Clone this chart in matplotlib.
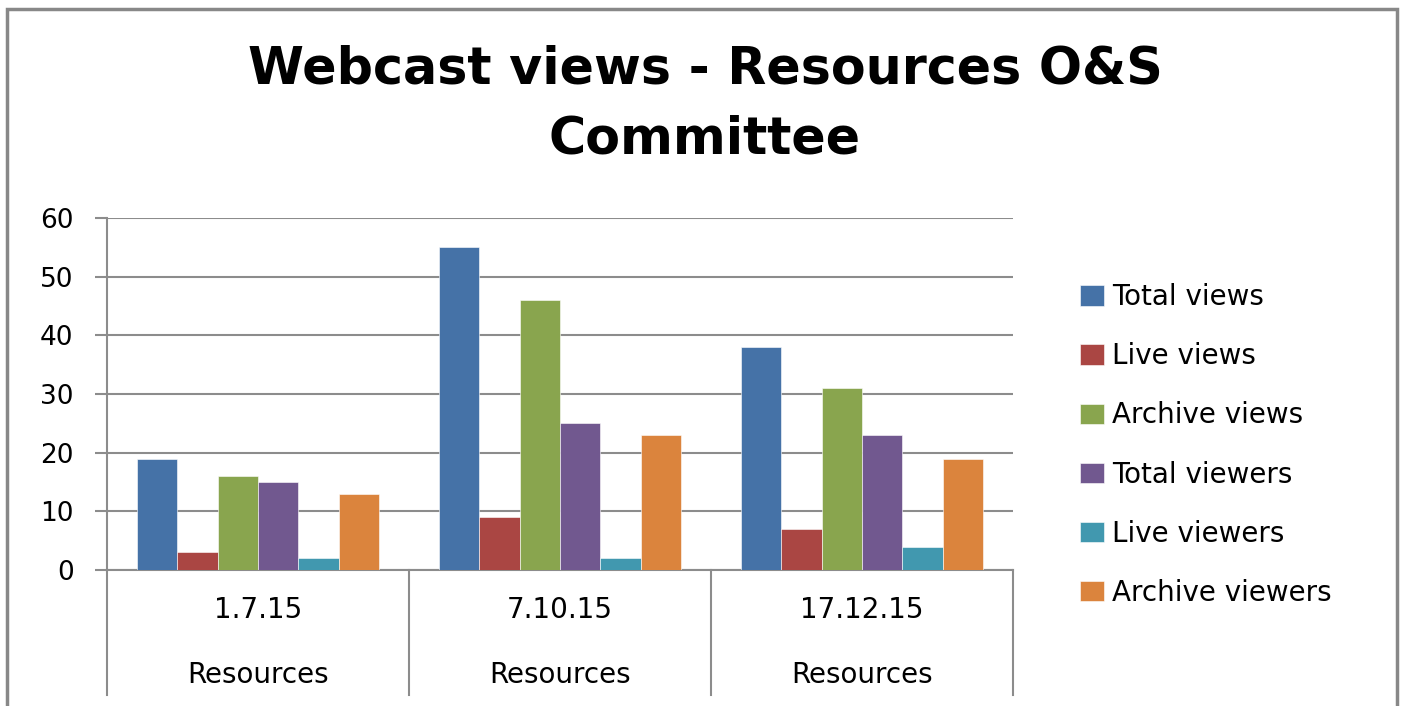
import numpy as np
import matplotlib
matplotlib.use("Agg")
import matplotlib.pyplot as plt
from matplotlib.patches import Rectangle
from matplotlib.transforms import blended_transform_factory

# data
dates = ["1.7.15", "7.10.15", "17.12.15"]
group_label = "Resources"
series = ["Total views", "Live views", "Archive views",
          "Total viewers", "Live viewers", "Archive viewers"]
total_views = [19, 55, 38]
live_views = [3, 9, 7]
archive_views = [16, 46, 31]
total_viewers = [15, 25, 23]
live_viewers = [2, 2, 4]
archive_viewers = [13, 23, 19]
values = [total_views, live_views, archive_views,
          total_viewers, live_viewers, archive_viewers]
colors = ["#4572A7", "#AA4643", "#89A54E", "#71588F", "#4198AF", "#DB843D"]

plt.rcParams['font.family'] = ['DejaVu Sans']
grid_col = "#8c8c8c"

fig = plt.figure(figsize=(14.06, 7.06), dpi=100)
ax = fig.add_axes([107 / 1406, 1 - 570 / 706, (1013 - 107) / 1406, 352 / 706])

x = np.arange(len(dates))
w = 1 / 7.5
for j, (name, vals, c) in enumerate(zip(series, values, colors)):
    ax.bar(x + (j - 2.5) * w, vals, width=w, color=c, label=name,
           edgecolor="white", linewidth=0.4, zorder=3)

ax.set_xlim(-0.5, 2.5)
ax.set_ylim(0, 60)
ax.set_yticks(range(0, 61, 10))
ax.yaxis.grid(True, color=grid_col, linewidth=1.5, zorder=0)
ax.tick_params(axis='y', length=9, width=1.5, color=grid_col, labelsize=19, pad=15)
ax.tick_params(axis='x', length=0, labelbottom=False)
for s in ["top", "right"]:
    ax.spines[s].set_visible(False)
for s in ["left", "bottom"]:
    ax.spines[s].set_color(grid_col)
    ax.spines[s].set_linewidth(1.5)

# category axis with separators below
tr = blended_transform_factory(ax.transData, ax.transAxes)
for b in np.arange(-0.5, len(dates), 1.0):
    ax.plot([b, b], [0, -0.355], transform=tr, color=grid_col, linewidth=1.5,
            clip_on=False)
for i, d in enumerate(dates):
    ax.text(i, -0.114, d, transform=tr, ha="center", va="center", fontsize=20)
    ax.text(i, -0.298, group_label, transform=tr, ha="center", va="center",
            fontsize=20)

ax.legend(loc="center left", bbox_to_anchor=(1066 / 1406, 1 - 445 / 706),
          bbox_transform=fig.transFigure, frameon=False, fontsize=20,
          labelspacing=1.12, handlelength=0.85, handleheight=0.75,
          handletextpad=0.3, borderpad=0)

fig.text(705 / 1406, 1 - 70 / 706, "Webcast views - Resources O&S",
         ha="center", va="center", fontsize=36.5, fontweight="bold")
fig.text(705 / 1406, 1 - 140 / 706, "Committee",
         ha="center", va="center", fontsize=36.5, fontweight="bold")

# outer chart border
fig.patches.append(Rectangle((7 / 1406, -0.02), 1390 / 1406, 1.02 - 9 / 706,
                             transform=fig.transFigure, fill=False,
                             edgecolor="#888888", linewidth=2.5))

fig.savefig("out.png", dpi=100)
